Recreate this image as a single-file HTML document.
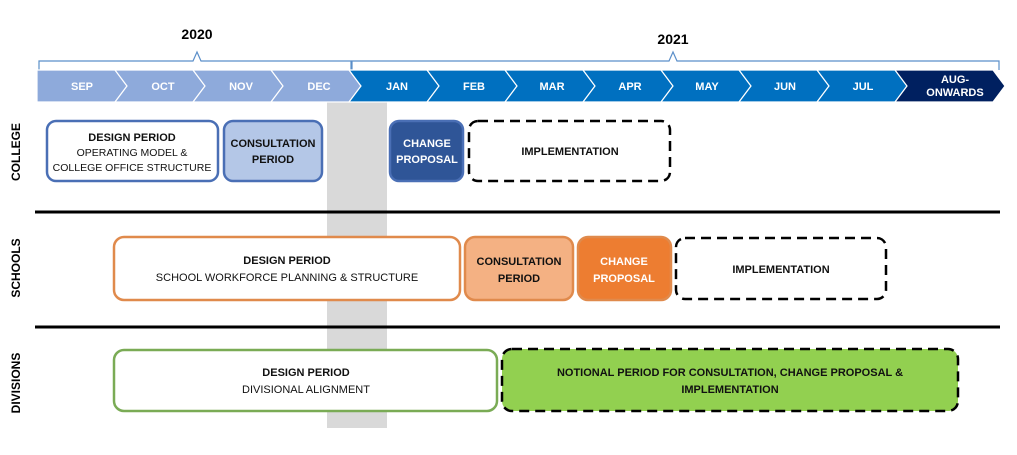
<!DOCTYPE html><html><head><style>body{margin:0;background:#fff}svg{display:block}text{font-family:"Liberation Sans",sans-serif}</style></head><body>
<svg width="1017" height="455" viewBox="0 0 1017 455">
<rect x="327" y="102" width="60" height="326" fill="#d9d9d9"/>
<g fill="none" stroke="#5b8fc9" stroke-width="1.2">
<path d="M39 70 V61 H193 L197 52 L201 61 H351 V70"/>
<path d="M352 70 V61 H669 L673 52 L677 61 H999 V70"/>
</g>
<text x="197" y="39" font-size="14" font-weight="bold" text-anchor="middle">2020</text>
<text x="673" y="44" font-size="14" font-weight="bold" text-anchor="middle">2021</text>
<g stroke="#ffffff" stroke-width="1.2">
<polygon points="37,70 115,70 127,86 115,102 37,102" fill="#8eaadb"/>
<polygon points="115,70 193,70 205,86 193,102 115,102 127,86" fill="#8eaadb"/>
<polygon points="193,70 271,70 283,86 271,102 193,102 205,86" fill="#8eaadb"/>
<polygon points="271,70 349,70 361,86 349,102 271,102 283,86" fill="#8eaadb"/>
<polygon points="349,70 427,70 439,86 427,102 349,102 361,86" fill="#0070c0"/>
<polygon points="427,70 505,70 517,86 505,102 427,102 439,86" fill="#0070c0"/>
<polygon points="505,70 583,70 595,86 583,102 505,102 517,86" fill="#0070c0"/>
<polygon points="583,70 661,70 673,86 661,102 583,102 595,86" fill="#0070c0"/>
<polygon points="661,70 739,70 751,86 739,102 661,102 673,86" fill="#0070c0"/>
<polygon points="739,70 817,70 829,86 817,102 739,102 751,86" fill="#0070c0"/>
<polygon points="817,70 895,70 907,86 895,102 817,102 829,86" fill="#0070c0"/>
<polygon points="895,70 993,70 1005,86 993,102 895,102 907,86" fill="#002060"/>
</g>
<g fill="#fff" font-size="11" font-weight="bold" text-anchor="middle">
<text x="82" y="90">SEP</text><text x="163" y="90">OCT</text><text x="241" y="90">NOV</text><text x="319" y="90">DEC</text>
<text x="397" y="90">JAN</text><text x="474" y="90">FEB</text><text x="552" y="90">MAR</text><text x="630" y="90">APR</text>
<text x="707" y="90">MAY</text><text x="785" y="90">JUN</text><text x="863" y="90">JUL</text>
<text x="955" y="83">AUG-</text><text x="955" y="96">ONWARDS</text>
</g>
<line x1="35" y1="212" x2="1000" y2="212" stroke="#000" stroke-width="3"/>
<line x1="35" y1="327" x2="1000" y2="327" stroke="#000" stroke-width="3"/>
<g font-size="12" font-weight="bold" text-anchor="middle">
<text transform="translate(20,152) rotate(-90)">COLLEGE</text>
<text transform="translate(20,268) rotate(-90)">SCHOOLS</text>
<text transform="translate(20,383) rotate(-90)">DIVISIONS</text>
</g>
<g stroke-width="2.5">
<rect x="47" y="121" width="171" height="60" rx="9" fill="#fff" stroke="#4a6fb5"/>
<rect x="224" y="121" width="98" height="60" rx="9" fill="#b4c7e7" stroke="#4a6fb5"/>
<rect x="390" y="121" width="73" height="60" rx="9" fill="#2f5597" stroke="#4a6fb5"/>
<rect x="469" y="121" width="201" height="60" rx="9" fill="#fff" stroke="#000" stroke-dasharray="10,6"/>
<rect x="114" y="237" width="346" height="63" rx="10" fill="#fff" stroke="#e08a4c"/>
<rect x="465" y="237" width="108" height="63" rx="10" fill="#f4b183" stroke="#e08a4c"/>
<rect x="578" y="237" width="93" height="63" rx="10" fill="#ed7d31" stroke="#e08a4c"/>
<rect x="676" y="238" width="210" height="61" rx="9" fill="#fff" stroke="#000" stroke-dasharray="10,6"/>
<rect x="114" y="350" width="383" height="61" rx="10" fill="#fff" stroke="#7aab55"/>
<rect x="502" y="349" width="456" height="62" rx="10" fill="#92d050" stroke="#000" stroke-dasharray="10,6"/>
</g>
<g font-size="11" text-anchor="middle" fill="#111">
<text x="132" y="141" font-weight="bold">DESIGN PERIOD</text>
<text x="132" y="156" font-size="10.5">OPERATING MODEL &amp;</text>
<text x="132" y="171" font-size="10.5">COLLEGE OFFICE STRUCTURE</text>
<text x="273" y="147" font-weight="bold">CONSULTATION</text>
<text x="273" y="163" font-weight="bold">PERIOD</text>
<text x="427" y="147" font-weight="bold" fill="#fff">CHANGE</text>
<text x="427" y="163" font-weight="bold" fill="#fff">PROPOSAL</text>
<text x="570" y="155" font-weight="bold">IMPLEMENTATION</text>
<text x="287" y="264" font-weight="bold">DESIGN PERIOD</text>
<text x="287" y="281">SCHOOL WORKFORCE PLANNING &amp;  STRUCTURE</text>
<text x="519" y="265" font-weight="bold">CONSULTATION</text>
<text x="519" y="282" font-weight="bold">PERIOD</text>
<text x="624" y="265" font-weight="bold" fill="#fff">CHANGE</text>
<text x="624" y="282" font-weight="bold" fill="#fff">PROPOSAL</text>
<text x="781" y="273" font-weight="bold">IMPLEMENTATION</text>
<text x="306" y="376" font-weight="bold">DESIGN PERIOD</text>
<text x="306" y="393">DIVISIONAL ALIGNMENT</text>
<text x="730" y="376" font-weight="bold">NOTIONAL PERIOD FOR CONSULTATION, CHANGE PROPOSAL &amp;</text>
<text x="730" y="393" font-weight="bold">IMPLEMENTATION</text>
</g>
</svg>
</body></html>
